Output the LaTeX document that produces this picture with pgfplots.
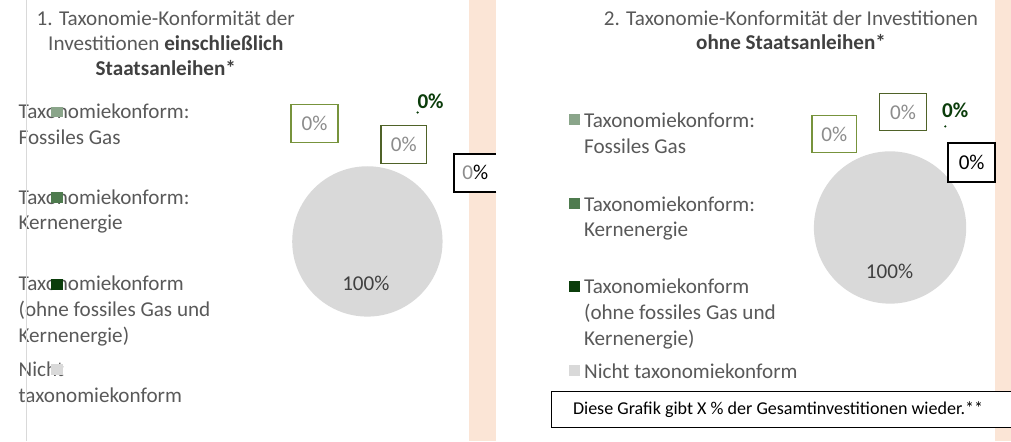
\documentclass[border=0pt]{standalone}
\usepackage{fontspec}
\setmainfont{Carlito}
\usepackage{pgfplots}
\usepackage{pgfplotstable}
\pgfplotsset{compat=1.18}

\definecolor{peach}{HTML}{FBE5D6}
\definecolor{gasc}{HTML}{8AA58A}
\definecolor{kernc}{HTML}{4E7B4E}
\definecolor{taxoc}{HTML}{0B3D0B}
\definecolor{nichtc}{HTML}{D9D9D9}
\definecolor{oliveA}{HTML}{77933C}
\definecolor{oliveB}{HTML}{4F6228}
\definecolor{txt}{HTML}{595959}
\definecolor{txtd}{HTML}{404040}
\definecolor{lblgrey}{HTML}{8C8C8C}

% share of the investments (in %)
\pgfplotstableread{
cat val
Gas 0
Kern 0
Taxo 0
Nicht 100
}\pieL
\pgfplotstableread{
cat val
Gas 0
Kern 0
Taxo 0
Nicht 100
}\pieR

\newcommand\getvals[2]{%
  \pgfplotstablegetelem{0}{val}\of#1\expandafter\edef\csname #2a\endcsname{\pgfplotsretval}%
  \pgfplotstablegetelem{1}{val}\of#1\expandafter\edef\csname #2b\endcsname{\pgfplotsretval}%
  \pgfplotstablegetelem{2}{val}\of#1\expandafter\edef\csname #2c\endcsname{\pgfplotsretval}%
  \pgfplotstablegetelem{3}{val}\of#1\expandafter\edef\csname #2d\endcsname{\pgfplotsretval}%
}
% slice: start angle, value, colour (clockwise from 12 o'clock)
\newcommand\pieslice[3]{%
  \pgfplotsextra{%
    \pgfmathsetmacro\pdelta{-3.6*#2}%
    \ifdim\pdelta pt=0pt\relax\else
      \fill[#3] (axis cs:0,0) -- (axis cs:{cos(#1)},{sin(#1)})
        arc[start angle=#1, delta angle=\pdelta, radius=1] -- cycle;
    \fi}}
\newcommand\pieall[1]{%
  \pgfmathsetmacro\sA{90}%
  \pgfmathsetmacro\sB{90-3.6*\csname #1a\endcsname}%
  \pgfmathsetmacro\sC{90-3.6*(\csname #1a\endcsname+\csname #1b\endcsname)}%
  \pgfmathsetmacro\sD{90-3.6*(\csname #1a\endcsname+\csname #1b\endcsname+\csname #1c\endcsname)}%
  \edef\doslices{%
    \noexpand\pieslice{\sA}{\csname #1a\endcsname}{gasc}%
    \noexpand\pieslice{\sB}{\csname #1b\endcsname}{kernc}%
    \noexpand\pieslice{\sC}{\csname #1c\endcsname}{taxoc}%
    \noexpand\pieslice{\sD}{\csname #1d\endcsname}{nichtc}}%
  \doslices}

\newcommand\lgf{\fontsize{21.3}{26}\selectfont}
\newcommand\ntf{\fontsize{18.2}{22}\selectfont}

\begin{document}
\getvals{\pieL}{L}
\getvals{\pieR}{R}
\begin{tikzpicture}[x=1bp,y=1bp]
\useasboundingbox (0,0) rectangle (1011,443);
\fill[white] (0,0) rectangle (1011,443);
% background strips
\fill[peach] (467,0) rectangle (494,443);
\fill[peach] (995,0) rectangle (1011,443);

% ---------- titles ----------
\node[anchor=base, font=\lgf, text=txt] at (162,417) {1. Taxonomie-Konformität der};
\node[anchor=base, font=\lgf, text=txt] at (162,392) {Investitionen \textcolor{txtd}{\textbf{einschließlich}}};
\node[anchor=base, font=\lgf, text=txtd] at (162,367) {\textbf{Staatsanleihen*}};
\node[anchor=base, font=\lgf, text=txt] at (790,417) {2. Taxonomie-Konformität der Investitionen};
\node[anchor=base, font=\lgf, text=txtd] at (790,393) {\textbf{ohne Staatsanleihen*}};

% ---------- left legend ----------
\foreach \yy/\lab in {324/Taxonomiekonform:, 298/Fossiles Gas, 238/Taxonomiekonform:, 212/Kernenergie,
  151/Taxonomiekonform, 125/(ohne fossiles Gas und, 99/Kernenergie), 65/Nicht, 39/taxonomiekonform}
  \node[anchor=base west, font=\lgf, text=txt, inner sep=0pt] at (14,\yy) {\lab};
\fill[gasc]   (47,325) rectangle (59,336);
\fill[kernc]  (47,239) rectangle (59,250);
\fill[taxoc]  (47,152) rectangle (59,163);
\fill[nichtc] (47,66)  rectangle (59,77);
\draw[nichtc, line width=1.5bp] (22,0) -- (22,443);

% ---------- right legend ----------
\foreach \yy/\lab in {315/Taxonomiekonform:, 289/Fossiles Gas, 231/Taxonomiekonform:, 205/Kernenergie,
  148/Taxonomiekonform, 122/(ohne fossiles Gas und, 96/Kernenergie), 63/Nicht taxonomiekonform}
  \node[anchor=base west, font=\lgf, text=txt, inner sep=0pt] at (582,\yy) {\lab};
\fill[gasc]   (567,317) rectangle (578,328);
\fill[kernc]  (567,233) rectangle (578,244);
\fill[taxoc]  (567,150) rectangle (578,161);
\fill[nichtc] (567,65)  rectangle (578,76);

% ---------- left pie ----------
\begin{axis}[at={(364.5bp,200.5bp)}, anchor=origin, hide axis, scale only axis,
  width=151bp, height=151bp, xmin=-1, xmax=1, ymin=-1, ymax=1, clip=false]
  \pieall{L}
\end{axis}
% ---------- right pie ----------
\begin{axis}[at={(889.5bp,214.5bp)}, anchor=origin, hide axis, scale only axis,
  width=153bp, height=153bp, xmin=-1, xmax=1, ymin=-1, ymax=1, clip=false]
  \pieall{R}
\end{axis}

% ---------- left data labels ----------
\node[font=\lgf, text=txtd] at (363,158) {\Ld\%};
\node[draw=oliveA, line width=1.5bp, fill=white, minimum width=47bp, minimum height=38bp, inner sep=0pt,
  font=\lgf, text=lblgrey] at (311.5,319) {\La\%};
\node[draw=oliveB, line width=1.5bp, fill=white, minimum width=46bp, minimum height=38bp, inner sep=0pt,
  font=\lgf, text=lblgrey] at (401,298) {\Lb\%};
\node[font=\lgf\bfseries, text=taxoc] at (428,341) {\Lc\%};
\fill[taxoc] (415,330) circle (1.2);
\fill[white] (452,250) rectangle (494,288);
\draw[black, line width=2bp] (494,250) -- (452,250) -- (452,288) -- (494,288);
\node[font=\lgf, text=lblgrey] at (473,270) {\Lc\textcolor{black}{\%}};

% ---------- right data labels ----------
\node[font=\lgf, text=txtd] at (889,170) {\Rd\%};
\node[draw=oliveA, line width=1.5bp, fill=white, minimum width=45bp, minimum height=37bp, inner sep=0pt,
  font=\lgf, text=lblgrey] at (833.5,308.5) {\Ra\%};
\node[draw=oliveB, line width=1.5bp, fill=white, minimum width=47bp, minimum height=37bp, inner sep=0pt,
  font=\lgf, text=lblgrey] at (902.5,330.5) {\Rb\%};
\node[font=\lgf\bfseries, text=taxoc] at (955,332) {\Rc\%};
\fill[taxoc] (945,316) circle (1.2);
\node[draw=black, line width=2bp, fill=white, minimum width=47bp, minimum height=39bp, inner sep=0pt,
  font=\lgf, text=black] at (971.5,279.5) {\Rc\%};

% ---------- note box ----------
\filldraw[draw=black, fill=white, line width=1bp] (549,14) rectangle (1020,50);
\node[font=\ntf, text=black] at (777,32) {Diese Grafik gibt X \% der Gesamtinvestitionen wieder.**};
\end{tikzpicture}
\end{document}
